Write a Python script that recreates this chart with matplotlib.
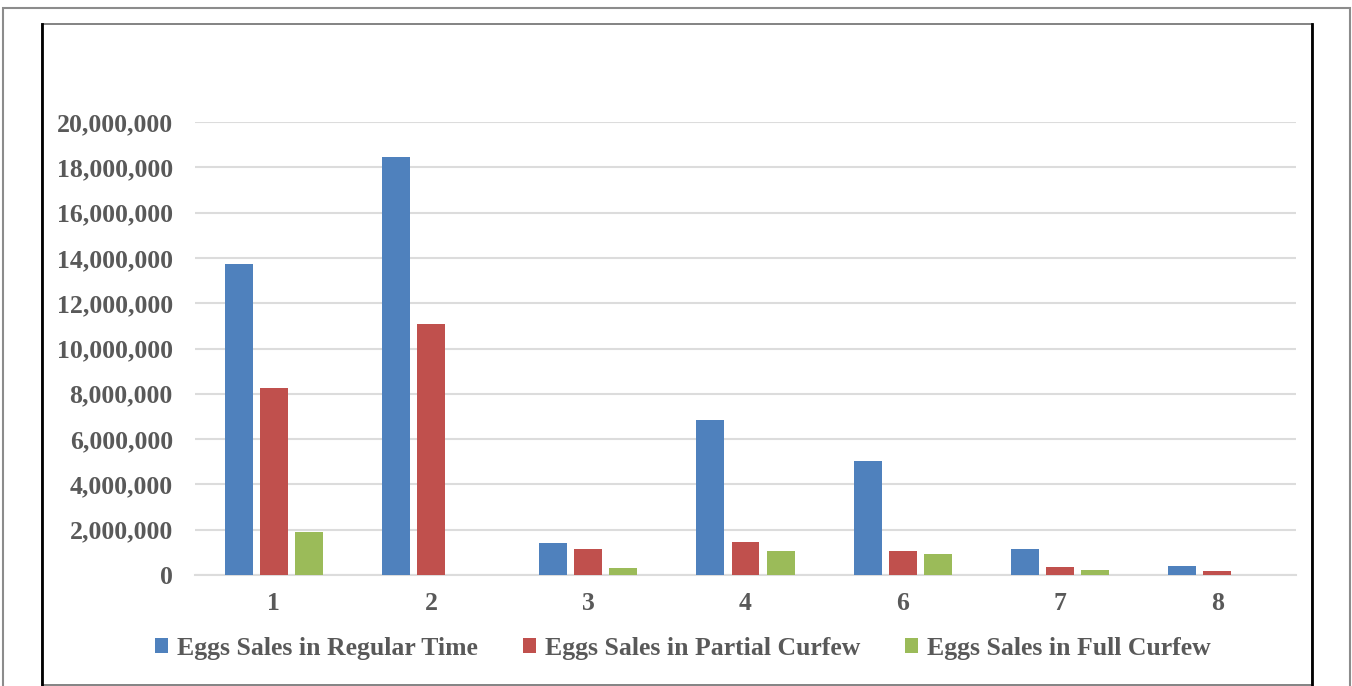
import matplotlib.pyplot as plt
import numpy as np
from matplotlib.patches import Rectangle
from matplotlib.lines import Line2D
from matplotlib.ticker import FuncFormatter

categories = ["1", "2", "3", "4", "6", "7", "8"]
regular = [13730000, 18450000, 1410000, 6840000, 5030000, 1160000, 380000]
partial = [8260000, 11080000, 1150000, 1460000, 1060000, 350000, 180000]
full = [1900000, 0, 310000, 1060000, 910000, 220000, 0]
series_names = ["Eggs Sales in Regular Time", "Eggs Sales in Partial Curfew", "Eggs Sales in Full Curfew"]
colors = ["#4F81BD", "#C0504D", "#9BBB59"]

W, H = 1352, 686
fig = plt.figure(figsize=(W / 100, H / 100), dpi=100)
fig.patch.set_facecolor("white")

FAM = "Liberation Serif"
FS = 18.5

# axes position in pixels
x0, x1 = 195, 1296
y_top, y_bot = 122, 575
ax = fig.add_axes([x0 / W, 1 - y_bot / H, (x1 - x0) / W, (y_bot - y_top) / H])

x = np.arange(len(categories))
bw = 0.178
step = 0.223
for i, (vals, c, n) in enumerate(zip([regular, partial, full], colors, series_names)):
    ax.bar(x + (i - 1) * step, vals, width=bw, color=c, label=n, zorder=3)

ax.set_xlim(-0.5, len(categories) - 0.5)
ax.set_ylim(0, 20000000)
ax.set_yticks(np.arange(0, 20000001, 2000000))
ax.yaxis.set_major_formatter(FuncFormatter(lambda v, p: f"{int(v):,}"))
ax.set_xticks(x)
ax.set_xticklabels(categories)
ax.grid(axis="y", color="#DCDCDC", linewidth=1.5, zorder=0)
for s in ["top", "right", "left"]:
    ax.spines[s].set_visible(False)
ax.spines["bottom"].set_color("#DCDCDC")
ax.spines["bottom"].set_linewidth(1.5)
ax.tick_params(axis="both", length=0)
ax.tick_params(axis="y", pad=16)
ax.tick_params(axis="x", pad=12)
for lab in ax.get_yticklabels() + ax.get_xticklabels():
    lab.set_fontfamily(FAM)
    lab.set_fontweight("bold")
    lab.set_color("#595959")
    lab.set_fontsize(FS)

leg = fig.legend(loc="center", bbox_to_anchor=(0.505, 1 - 648 / H), ncol=3, frameon=False,
                 prop=dict(family=FAM, weight="bold", size=FS),
                 handlelength=0.5, handleheight=0.5, handletextpad=0.35, columnspacing=1.75)
for t in leg.get_texts():
    t.set_color("#595959")

# frames
def px_rect(xa, ya, xb, yb, **kw):
    return Rectangle((xa / W, 1 - yb / H), (xb - xa) / W, (yb - ya) / H,
                     transform=fig.transFigure, fill=False, **kw)

fig.patches.append(px_rect(3, 8, 1350, 690, edgecolor="#8C8C8C", linewidth=1.5))
fig.patches.append(px_rect(42, 24, 1312, 685, edgecolor="#6E6E6E", linewidth=1.2))
fig.lines.append(Line2D([42 / W, 42 / W], [1 - 24 / H, 1 - 685 / H], transform=fig.transFigure, color="black", linewidth=2))
fig.lines.append(Line2D([1312 / W, 1312 / W], [1 - 24 / H, 1 - 685 / H], transform=fig.transFigure, color="black", linewidth=2))

fig.savefig("out.png", dpi=100)
